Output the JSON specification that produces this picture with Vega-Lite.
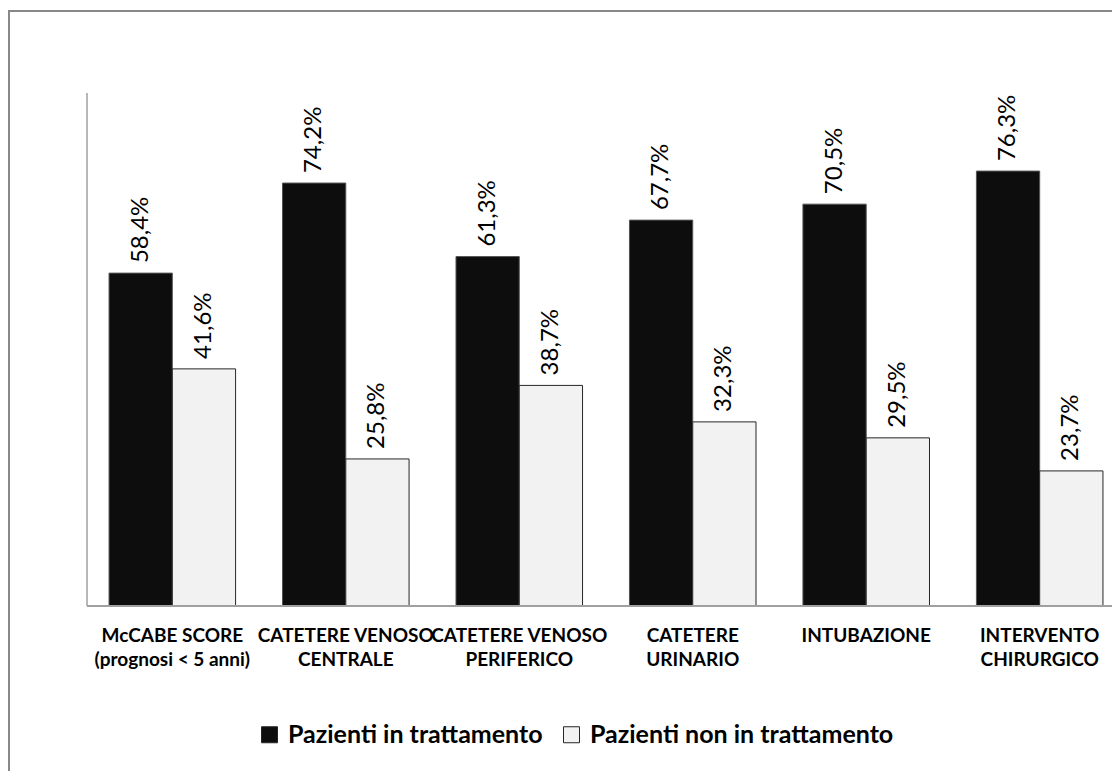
{
  "$schema": "https://vega.github.io/schema/vega-lite/v6.json",
  "width": 1194,
  "height": 790,
  "autosize": {"type": "none"},
  "padding": {"left": 9, "top": 11, "right": 0, "bottom": 0},
  "background": "white",
  "config": {
    "view": {"stroke": "#888888", "strokeWidth": 2},
    "font": "Lato",
    "locale": {"number": {"decimal": ",", "thousands": ".", "grouping": [3], "currency": ["", " €"]}}
  },
  "data": {
    "values": [
      {"categoria": "McCABE SCORE|(prognosi < 5 anni)", "gruppo": "Pazienti in trattamento", "valore": 0.584},
      {"categoria": "McCABE SCORE|(prognosi < 5 anni)", "gruppo": "Pazienti non in trattamento", "valore": 0.416},
      {"categoria": "CATETERE VENOSO|CENTRALE", "gruppo": "Pazienti in trattamento", "valore": 0.742},
      {"categoria": "CATETERE VENOSO|CENTRALE", "gruppo": "Pazienti non in trattamento", "valore": 0.258},
      {"categoria": "CATETERE VENOSO|PERIFERICO", "gruppo": "Pazienti in trattamento", "valore": 0.613},
      {"categoria": "CATETERE VENOSO|PERIFERICO", "gruppo": "Pazienti non in trattamento", "valore": 0.387},
      {"categoria": "CATETERE|URINARIO", "gruppo": "Pazienti in trattamento", "valore": 0.677},
      {"categoria": "CATETERE|URINARIO", "gruppo": "Pazienti non in trattamento", "valore": 0.323},
      {"categoria": "INTUBAZIONE", "gruppo": "Pazienti in trattamento", "valore": 0.705},
      {"categoria": "INTUBAZIONE", "gruppo": "Pazienti non in trattamento", "valore": 0.295},
      {"categoria": "INTERVENTO|CHIRURGICO", "gruppo": "Pazienti in trattamento", "valore": 0.763},
      {"categoria": "INTERVENTO|CHIRURGICO", "gruppo": "Pazienti non in trattamento", "valore": 0.237}
    ]
  },
  "encoding": {
    "x": {
      "field": "categoria",
      "type": "nominal",
      "sort": null,
      "scale": {"paddingInner": 0.2705, "paddingOuter": 0.5767},
      "axis": {
        "orient": "bottom",
        "offset": -195,
        "title": null,
        "domain": false,
        "ticks": false,
        "labelAngle": 0,
        "labelExpr": "split(datum.label, '|')",
        "labelFont": "Lato",
        "labelFontSize": 19,
        "labelFontWeight": "bold",
        "labelColor": "#000000",
        "labelLineHeight": 24,
        "labelBaseline": "top",
        "labelPadding": 20,
        "labelLimit": 0,
        "labelOverlap": false
      }
    }
  },
  "layer": [
    {
      "mark": {"type": "bar", "strokeWidth": 1},
      "encoding": {
        "xOffset": {"field": "gruppo", "type": "nominal", "sort": ["Pazienti in trattamento", "Pazienti non in trattamento"], "scale": {"paddingInner": 0, "paddingOuter": 0}},
        "y": {"field": "valore", "type": "quantitative", "scale": {"domain": [-0.34211, 1.04386], "nice": false, "zero": false}, "axis": null},
        "y2": {"datum": 0},
        "fill": {
          "field": "gruppo", "type": "nominal",
          "sort": ["Pazienti in trattamento", "Pazienti non in trattamento"],
          "scale": {"range": ["#0d0d0d", "#f2f2f2"]},
          "legend": {
            "orient": "none", "legendX": 248, "legendY": 711, "direction": "horizontal", "title": null,
            "symbolType": "square", "symbolSize": 256, "symbolStrokeWidth": 1, "symbolStrokeColor": "#262626",
            "labelFont": "Lato", "labelFontSize": 25, "labelFontWeight": "bold", "labelColor": "#000000",
            "labelOffset": 6, "columnPadding": 16, "labelLimit": 0,
            "encode": {"symbols": {"update": {"stroke": {"value": "#262626"}, "strokeWidth": {"value": 1}}}}
          }
        },
        "stroke": {
          "field": "gruppo", "type": "nominal",
          "sort": ["Pazienti in trattamento", "Pazienti non in trattamento"],
          "scale": {"range": ["#555555", "#262626"]},
          "legend": null
        }
      }
    },
    {
      "mark": {"type": "text", "angle": 270, "align": "left", "baseline": "middle", "dx": 10, "font": "Lato", "fontSize": 24, "color": "#000000"},
      "encoding": {
        "xOffset": {"field": "gruppo", "type": "nominal", "sort": ["Pazienti in trattamento", "Pazienti non in trattamento"]},
        "y": {"field": "valore", "type": "quantitative"},
        "text": {"field": "valore", "type": "quantitative", "format": ".1%"}
      }
    },
    {
      "data": {"values": [{"inizio": "McCABE SCORE|(prognosi < 5 anni)", "fine": "INTERVENTO|CHIRURGICO", "zero": 0, "cima": 0.9}]},
      "mark": {"type": "rule", "color": "#a0a0a0", "strokeWidth": 1.5},
      "encoding": {
        "x": {"field": "inizio", "type": "nominal", "bandPosition": -0.174},
        "y": {"field": "zero", "type": "quantitative"},
        "y2": {"field": "cima"}
      }
    },
    {
      "data": {"values": [{"inizio": "McCABE SCORE|(prognosi < 5 anni)", "fine": "INTERVENTO|CHIRURGICO", "zero": 0}]},
      "mark": {"type": "rule", "color": "#a0a0a0", "strokeWidth": 2},
      "encoding": {
        "x": {"field": "inizio", "type": "nominal", "bandPosition": -0.174},
        "x2": {"field": "fine", "bandPosition": 2},
        "y": {"field": "zero", "type": "quantitative"}
      }
    }
  ]
}
